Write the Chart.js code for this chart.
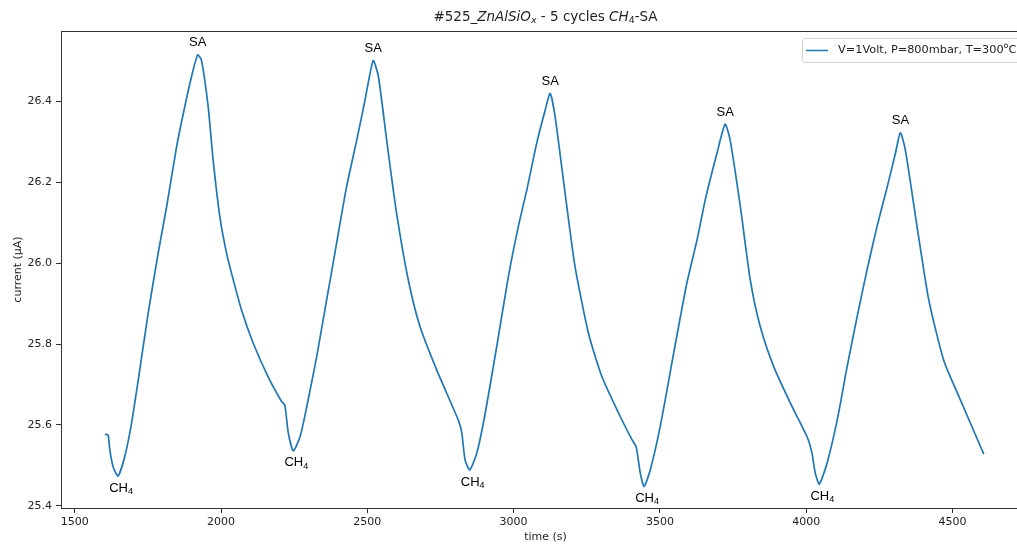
<!DOCTYPE html>
<html>
<head>
<meta charset="utf-8">
<script src="https://cdn.jsdelivr.net/npm/chart.js@4.4.1/dist/chart.umd.min.js"></script>
<style>
  html, body { margin: 0; padding: 0; background: #fff; overflow: hidden; }
  canvas { display: block; }
</style>
</head>
<body>
<canvas id="cycleChart" width="1040" height="545"></canvas>
<script>
// sensor current over 5 CH4 / synthetic air cycles
const timeS = [
  1603, 1614, 1620, 1631, 1648, 1671, 1694, 1717, 1751, 1785, 1814, 1848, 1876, 1899, 1920,
  1933, 1956, 1973, 1996, 2019, 2042, 2070, 2110, 2161, 2207, 2218, 2230, 2247,
  2270, 2293, 2327, 2361, 2395, 2429, 2464, 2492, 2520,
  2538, 2566, 2600, 2640, 2680, 2737, 2811, 2823, 2834, 2850,
  2874, 2903, 2948, 2982, 3016, 3045, 3079, 3108, 3125,
  3142, 3176, 3210, 3256, 3302, 3359, 3405, 3419, 3433, 3446,
  3467, 3501, 3547, 3592, 3627, 3655, 3695, 3723,
  3740, 3775, 3809, 3843, 3889, 3946, 4003, 4020, 4031, 4045,
  4071, 4106, 4140, 4174, 4208, 4242, 4277, 4305, 4322,
  4339, 4379, 4419, 4470, 4527, 4607
];
const currentUA = [
  25.577, 25.575, 25.538, 25.497, 25.474, 25.522, 25.604, 25.711, 25.876, 26.024, 26.139, 26.287, 26.386, 26.460, 26.514,
  26.501, 26.386, 26.254, 26.114, 26.024, 25.958, 25.884, 25.802, 25.719, 25.658, 25.649, 25.580, 25.536,
  25.571, 25.645, 25.769, 25.909, 26.049, 26.188, 26.304, 26.402, 26.500,
  26.460, 26.304, 26.123, 25.958, 25.843, 25.736, 25.612, 25.580, 25.514, 25.489,
  25.530, 25.629, 25.818, 25.966, 26.090, 26.180, 26.296, 26.378, 26.419,
  26.361, 26.172, 25.991, 25.826, 25.719, 25.629, 25.563, 25.546, 25.481, 25.448,
  25.489, 25.596, 25.777, 25.950, 26.057, 26.156, 26.271, 26.343,
  26.304, 26.139, 25.958, 25.843, 25.744, 25.654, 25.571, 25.530, 25.481, 25.454,
  25.505, 25.612, 25.744, 25.867, 25.983, 26.090, 26.188, 26.271, 26.322,
  26.279, 26.090, 25.909, 25.760, 25.662, 25.528
];

// gas switching points marked on the curve
const saPeakTimes = [1920, 2520, 3125, 3723, 4322];
const ch4DipTimes = [1648, 2247, 2850, 3446, 4045];

const xTicks = [1500, 2000, 2500, 3000, 3500, 4000, 4500];
const yTicks = [25.4, 25.6, 25.8, 26.0, 26.2, 26.4];

const lineColor = '#1f77b4';
const textColor = '#222';
const dejavu = '"DejaVu Sans", sans-serif';
const arial = '"Liberation Sans", Arial, sans-serif';

// parts: [text, style] where style may hold 'i', 'sub', 'sup'
function drawRich(ctx, parts, x, y, size, family, align) {
  const pieces = parts.map(([text, style = '']) => {
    const small = style.includes('sub') || style.includes('sup');
    const fs = small ? size * 0.7 : size;
    const font = (style.includes('i') ? 'italic ' : '') + fs + 'px ' + family;
    ctx.font = font;
    let dy = 0;
    if (style.includes('sub')) dy = size * 0.25;
    if (style.includes('sup')) dy = -size * 0.4;
    return { text, font, dy, w: ctx.measureText(text).width };
  });
  const total = pieces.reduce((s, p) => s + p.w, 0);
  let cx = align === 'left' ? x : x - total / 2;
  ctx.textAlign = 'left';
  ctx.textBaseline = 'middle';
  pieces.forEach(p => {
    ctx.font = p.font;
    ctx.fillText(p.text, cx, y + p.dy);
    cx += p.w;
  });
}

const decorations = {
  id: 'decorations',
  afterDatasetsDraw(chart) {
    const { ctx, chartArea: a, scales } = chart;
    ctx.save();

    // axes frame
    ctx.strokeStyle = '#333';
    ctx.lineWidth = 1;
    ctx.strokeRect(Math.round(a.left) + 0.5, Math.round(a.top) + 0.5,
      Math.round(a.right - a.left), Math.round(a.bottom - a.top));

    ctx.fillStyle = textColor;
    const midX = (a.left + a.right) / 2;

    // title
    drawRich(ctx, [['#525_'], ['ZnAlSiO', 'i'], ['x', 'isub'], [' - 5 cycles '], ['CH', 'i'], ['4', 'sub'], ['-SA']],
      midX, 17, 13.5, dejavu);

    // axis titles
    ctx.font = '11px ' + dejavu;
    ctx.textAlign = 'center';
    ctx.textBaseline = 'middle';
    ctx.fillText('time (s)', midX, 537);
    ctx.save();
    ctx.translate(18, (a.top + a.bottom) / 2);
    ctx.rotate(-Math.PI / 2);
    ctx.fillText('current (\u00b5A)', 0, 0);
    ctx.restore();

    // SA / CH4 markers
    ctx.fillStyle = '#000';
    saPeakTimes.forEach(t => {
      const v = currentUA[timeS.indexOf(t)];
      drawRich(ctx, [['SA']], scales.x.getPixelForValue(t), scales.y.getPixelForValue(v) - 12, 13, arial);
    });
    ch4DipTimes.forEach(t => {
      const v = currentUA[timeS.indexOf(t)];
      drawRich(ctx, [['CH'], ['4', 'sub']], scales.x.getPixelForValue(t) + 3, scales.y.getPixelForValue(v) + 12, 13, arial);
    });

    // legend box
    const lx = 802, ly = 38, lw = a.right - 5 - lx, lh = 24;
    ctx.fillStyle = 'rgba(255,255,255,0.8)';
    ctx.strokeStyle = '#d0d0d0';
    ctx.beginPath();
    ctx.roundRect(lx + 0.5, ly + 0.5, lw, lh, 3);
    ctx.fill();
    ctx.stroke();
    ctx.strokeStyle = lineColor;
    ctx.lineWidth = 1.5;
    ctx.beginPath();
    ctx.moveTo(806, ly + lh / 2 + 0.5);
    ctx.lineTo(828, ly + lh / 2 + 0.5);
    ctx.stroke();
    ctx.fillStyle = textColor;
    drawRich(ctx, [['V=1Volt, P=800mbar, T=300'], ['o', 'sup'], ['C']], 838, ly + lh / 2 + 0.5, 11.3, dejavu, 'left');

    ctx.restore();
  }
};

new Chart(document.getElementById('cycleChart'), {
  type: 'line',
  data: {
    datasets: [{
      label: 'V=1Volt, P=800mbar, T=300\u00b0C',
      data: timeS.map((t, i) => ({ x: t, y: currentUA[i] })),
      borderColor: lineColor,
      borderWidth: 1.7,
      pointRadius: 0,
      tension: 0.2,
      fill: false
    }]
  },
  options: {
    responsive: false,
    animation: false,
    layout: { padding: { left: 0, top: 31, right: 10, bottom: 0 } },
    plugins: {
      legend: { display: false },
      title: { display: false },
      tooltip: { enabled: false }
    },
    scales: {
      x: {
        type: 'linear',
        min: 1453,
        max: 4765,
        afterBuildTicks: s => { s.ticks = xTicks.map(v => ({ value: v })); },
        afterFit: s => { s.height = 37; },
        grid: { drawOnChartArea: false, drawTicks: true, tickLength: 5, tickColor: '#333' },
        border: { display: false },
        ticks: {
          color: textColor,
          font: { family: dejavu, size: 11 },
          padding: 3,
          maxRotation: 0,
          callback: v => String(v)
        }
      },
      y: {
        type: 'linear',
        min: 25.395,
        max: 26.573,
        afterBuildTicks: s => { s.ticks = yTicks.map(v => ({ value: v })); },
        afterFit: s => { s.width = 61; },
        grid: { drawOnChartArea: false, drawTicks: true, tickLength: 5, tickColor: '#333' },
        border: { display: false },
        ticks: {
          color: textColor,
          font: { family: dejavu, size: 11 },
          padding: 4,
          callback: v => v.toFixed(1)
        }
      }
    }
  },
  plugins: [decorations]
});
</script>
</body>
</html>
